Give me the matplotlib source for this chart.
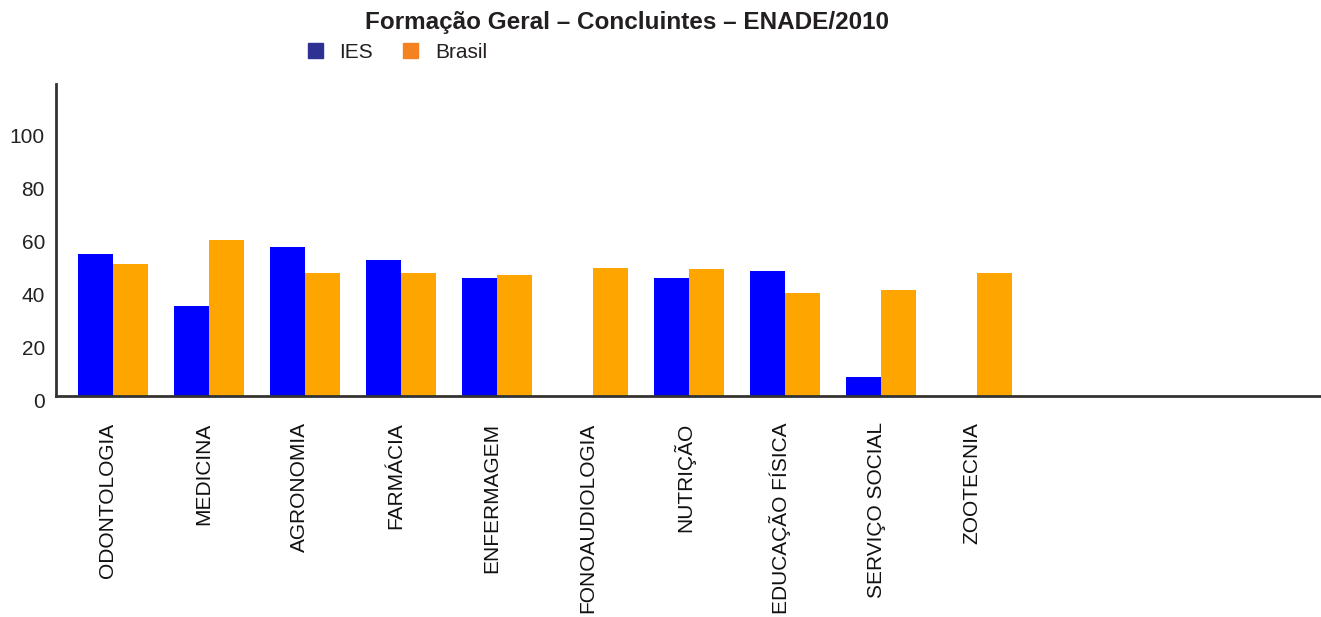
import matplotlib
matplotlib.use("Agg")
import matplotlib.pyplot as plt
import matplotlib.transforms as mtransforms
from matplotlib.patches import Patch
import numpy as np

plt.rcParams['font.family'] = ['Liberation Sans', 'DejaVu Sans']

cursos = ['ODONTOLOGIA', 'MEDICINA', 'AGRONOMIA', 'FARMÁCIA', 'ENFERMAGEM',
          'FONOAUDIOLOGIA', 'NUTRIÇÃO', 'EDUCAÇÃO FÍSICA', 'SERVIÇO SOCIAL', 'ZOOTECNIA']
ies = [53.6, 34.0, 56.2, 51.3, 44.5, 0, 44.5, 47.2, 7.2, 0]
brasil = [49.8, 58.9, 46.4, 46.4, 45.7, 48.3, 47.9, 38.9, 40.0, 46.4]
yticks = [0, 20, 40, 60, 80, 100]

fig = plt.figure(figsize=(13.21, 6.17), dpi=100)
ax = fig.add_axes([56 / 1321, 1 - 396 / 617, 1 - 56 / 1321, (396 - 84) / 617])

x = np.arange(len(cursos))
w = 0.365
ax.bar(x - w / 2, ies, w, color='#0000ff', linewidth=0)
ax.bar(x + w / 2, brasil, w, color='#ffa500', linewidth=0)

ax.set_xlim(-0.59, 12.58)
ax.set_ylim(0, 117.7)
ax.set_yticks(yticks)
ax.set_yticklabels([str(v) for v in yticks], fontsize=15, color='#222222')
ax.set_xticks(x)
ax.set_xticklabels(cursos, rotation=90, fontsize=15, color='#111111', va='top', ha='center')
ax.tick_params(axis='both', length=0)
ax.tick_params(axis='x', pad=19)
ax.tick_params(axis='y', pad=8)

shift = mtransforms.ScaledTranslation(-5 / 100, 0, fig.dpi_scale_trans)
for lab in ax.get_xticklabels():
    lab.set_transform(lab.get_transform() + shift)
shift_y = mtransforms.ScaledTranslation(0, -5 / 100, fig.dpi_scale_trans)
for lab in ax.get_yticklabels():
    lab.set_transform(lab.get_transform() + shift_y)

for s in ['top', 'right']:
    ax.spines[s].set_visible(False)
for s in ['left', 'bottom']:
    ax.spines[s].set_color('#333333')
    ax.spines[s].set_linewidth(2)

fig.text(627 / 1321, 1 - 23 / 617, 'Formação Geral – Concluintes – ENADE/2010',
         ha='center', va='center', fontsize=17.5, fontweight='bold', color='#231f20')

handles = [Patch(color='#2e3192', label='IES'), Patch(color='#f58220', label='Brasil')]
fig.legend(handles=handles, loc='center left', bbox_to_anchor=(289 / 1321, 1 - 52 / 617),
           ncol=2, frameon=False, fontsize=15, handlelength=0.72, handleheight=0.72,
           handletextpad=0.8, columnspacing=1.45, labelcolor='#231f20')

fig.savefig('out.png', dpi=100)
